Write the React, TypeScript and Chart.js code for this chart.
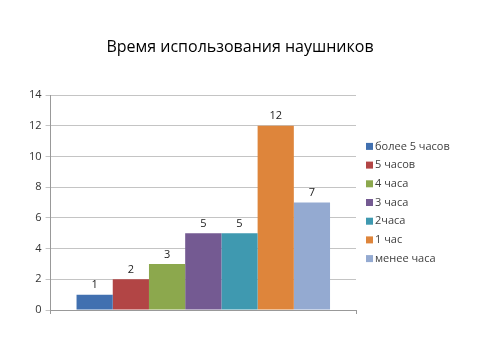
import React, { useEffect, useRef } from "react";
import { Chart, registerables } from "chart.js";

Chart.register(...registerables);

const categories = [""];
const seriesNames = ["более 5 часов", "5 часов", "4 часа", "3 часа", "2часа", "1 час", "менее часа"];
const seriesValues = [1, 2, 3, 5, 5, 12, 7];
const seriesColors = ["#4170B0", "#B24545", "#8CA84D", "#745A92", "#3F99B0", "#DE853B", "#94AAD1"];
const yTicks = [0, 2, 4, 6, 8, 10, 12, 14];
const titleText = "Время использования наушников";

const FONT = "'Open Sans', 'DejaVu Sans', sans-serif";

const valueLabels = {
  id: "valueLabels",
  afterDatasetsDraw(chart: any) {
    const ctx = chart.ctx;
    ctx.save();
    ctx.font = `11px ${FONT}`;
    ctx.fillStyle = "#222";
    ctx.textAlign = "center";
    ctx.textBaseline = "bottom";
    chart.data.datasets.forEach((ds: any, i: number) => {
      const meta = chart.getDatasetMeta(i);
      meta.data.forEach((bar: any, j: number) => {
        ctx.fillText(String(ds.data[j]), bar.x, bar.y - 4);
      });
    });
    ctx.restore();
  },
};

const pageTitle = {
  id: "pageTitle",
  afterDraw(chart: any) {
    const ctx = chart.ctx;
    ctx.save();
    ctx.font = `16px ${FONT}`;
    ctx.fillStyle = "#000";
    ctx.textAlign = "center";
    ctx.textBaseline = "middle";
    ctx.fillText(titleText, chart.width / 2, 47);
    ctx.restore();
  },
};

const sideLegend = {
  id: "sideLegend",
  afterDraw(chart: any) {
    const ctx = chart.ctx;
    const area = chart.chartArea;
    const n = chart.data.datasets.length;
    const step = 18.7;
    const cy = (area.top + area.bottom) / 2;
    const y0 = cy - ((n - 1) * step) / 2;
    const x = area.right + 10;
    ctx.save();
    ctx.font = `11px ${FONT}`;
    ctx.textAlign = "left";
    ctx.textBaseline = "middle";
    chart.data.datasets.forEach((ds: any, i: number) => {
      const y = y0 + i * step;
      ctx.fillStyle = ds.backgroundColor;
      ctx.fillRect(x, y - 3.5, 7, 7);
      ctx.fillStyle = "#404040";
      ctx.fillText(ds.label, x + 9, y);
    });
    ctx.restore();
  },
};

export default function App() {
  const ref = useRef<HTMLCanvasElement | null>(null);
  useEffect(() => {
    document.body.style.margin = "0";
    const chart = new Chart(ref.current!, {
      type: "bar",
      data: {
        labels: categories,
        datasets: seriesNames.map((name, i) => ({
          label: name,
          data: [seriesValues[i]],
          backgroundColor: seriesColors[i],
          borderWidth: 0,
          barPercentage: 1,
          categoryPercentage: 0.83,
        })),
      },
      options: {
        animation: false,
        responsive: false,
        maintainAspectRatio: false,
        layout: { padding: { left: 25, right: 124, top: 95, bottom: 46 } },
        plugins: {
          title: { display: false },
          legend: { display: false },
          tooltip: { enabled: false },
        },
        scales: {
          x: {
            ticks: { display: false },
            grid: { drawOnChartArea: false, drawTicks: true, tickLength: 4, color: "#999" },
            border: { color: "#999" },
          },
          y: {
            min: 0,
            max: 14,
            afterBuildTicks: (axis: any) => {
              axis.ticks = yTicks.map((v) => ({ value: v }));
            },
            ticks: { color: "#333", font: { family: FONT, size: 11 }, padding: 4 },
            grid: { color: "#c4c4c4", tickLength: 5 },
            border: { color: "#999" },
          },
        },
      },
      plugins: [valueLabels, pageTitle, sideLegend],
    });
    return () => chart.destroy();
  }, []);
  return <canvas ref={ref} width={480} height={360} style={{ display: "block" }} />;
}
